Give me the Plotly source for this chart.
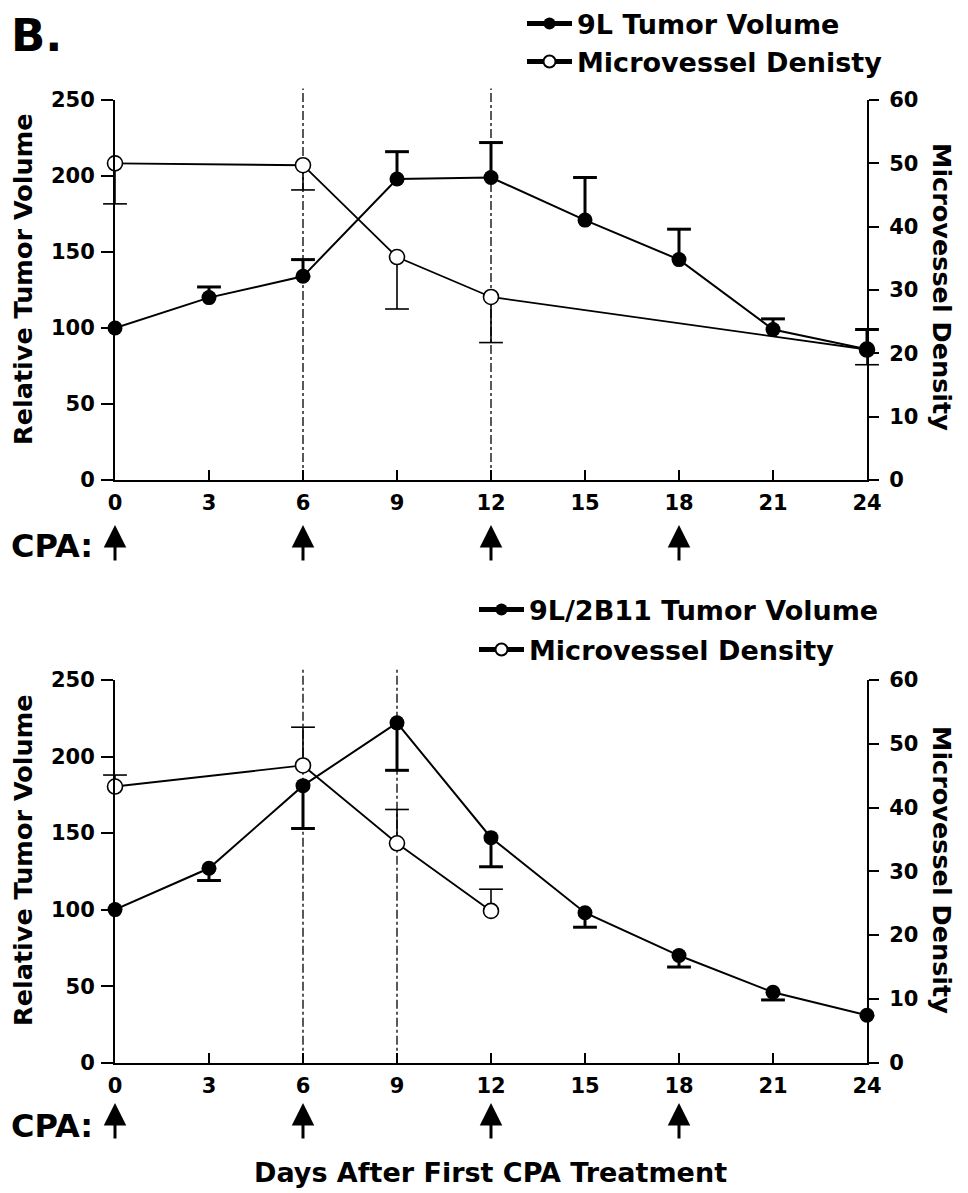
import plotly.graph_objects as go

# ---------------- data ----------------
days = [0, 3, 6, 9, 12, 15, 18, 21, 24]
tick_days = [0, 3, 6, 9, 12, 15, 18, 21, 24]
cpa_days = [0, 6, 12, 18]

# Panel 1 (9L)
tv1 = [100, 120, 134, 198, 199, 171, 145, 99, 86]
tv1_err_up = [None, 7, 11, 18, 23, 28, 20, 7, 13]
mvd1_days = [0, 6, 9, 12, 24]
mvd1 = [50.0, 49.7, 35.2, 28.9, 20.6]
mvd1_err_dn = [6.4, 3.9, 8.2, 7.2, 2.4]
vlines1 = [6, 12]

# Panel 2 (9L/2B11)
tv2 = [100, 127, 181, 222, 147, 98, 70, 46, 31]
tv2_err_dn = [None, 8, 28, 31, 19, 9.5, 7.5, 5, None]
mvd2_days = [0, 6, 9, 12]
mvd2 = [43.3, 46.6, 34.4, 23.8]
mvd2_err_up = [1.8, 6.0, 5.3, 3.4]
vlines2 = [6, 9]

tv_ticks = [0, 50, 100, 150, 200, 250]
mvd_ticks = [0, 10, 20, 30, 40, 50, 60]

# ---------------- style ----------------
OFF = 8                      # page body margin in the browser
W, H = 968 - OFF, 1193 - OFF
FONT = "DejaVu Sans"
BLACK = "black"

def px_x(p):
    return (p - OFF) / W

def px_y(p):
    return 1 - (p - OFF) / H

fig = go.Figure()


def err_traces(xs, vals, errs, sign, axes, thick, capw):
    sx, sy, cx, cy = [], [], [], []
    for x, v, e in zip(xs, vals, errs):
        if e is None:
            continue
        end = v + sign * e
        sx += [x, x, None]
        sy += [v, end, None]
        cx.append(x)
        cy.append(end)
    fig.add_trace(go.Scatter(x=sx, y=sy, mode="lines", xaxis=axes[0], yaxis=axes[1],
                             line=dict(color=BLACK, width=thick), showlegend=False,
                             hoverinfo="skip", cliponaxis=False))
    fig.add_trace(go.Scatter(x=cx, y=cy, mode="markers", xaxis=axes[0], yaxis=axes[1],
                             marker=dict(symbol="line-ew", size=capw,
                                         line=dict(color=BLACK, width=thick)),
                             showlegend=False, hoverinfo="skip", cliponaxis=False))


# base axis (y / y3) = MVD on right; overlay (y2 / y4) = tumor volume on left
# Panel 1: MVD
err_traces(mvd1_days, mvd1, mvd1_err_dn, -1, ("x", "y"), 1.6, 17)
fig.add_trace(go.Scatter(x=mvd1_days, y=mvd1, mode="lines+markers", xaxis="x", yaxis="y",
                         name="Microvessel Denisty", legend="legend2",
                         line=dict(color=BLACK, width=1.8),
                         marker=dict(symbol="circle", size=15, color="white",
                                     line=dict(color=BLACK, width=1.6)),
                         cliponaxis=False))
# Panel 1: tumor volume
err_traces(days, tv1, tv1_err_up, 1, ("x", "y2"), 3, 17)
fig.add_trace(go.Scatter(x=days, y=tv1, mode="lines+markers", xaxis="x", yaxis="y2",
                         name="9L Tumor Volume", legend="legend",
                         line=dict(color=BLACK, width=2),
                         marker=dict(symbol="circle", size=15, color=BLACK),
                         cliponaxis=False))

# Panel 2: MVD
err_traces(mvd2_days, mvd2, mvd2_err_up, 1, ("x2", "y3"), 1.6, 17)
fig.add_trace(go.Scatter(x=mvd2_days, y=mvd2, mode="lines+markers", xaxis="x2", yaxis="y3",
                         name="Microvessel Density", legend="legend4",
                         line=dict(color=BLACK, width=1.8),
                         marker=dict(symbol="circle", size=15, color="white",
                                     line=dict(color=BLACK, width=1.6)),
                         cliponaxis=False))
# Panel 2: tumor volume
err_traces(days, tv2, tv2_err_dn, -1, ("x2", "y4"), 3, 17)
fig.add_trace(go.Scatter(x=days, y=tv2, mode="lines+markers", xaxis="x2", yaxis="y4",
                         name="9L/2B11 Tumor Volume", legend="legend3",
                         line=dict(color=BLACK, width=2),
                         marker=dict(symbol="circle", size=15, color=BLACK),
                         cliponaxis=False))

tickfont = dict(family=FONT, size=21, color=BLACK, weight="bold")
xdom = [px_x(115), px_x(867)]
top_dom = [px_y(480), px_y(100)]
bot_dom = [px_y(1062.7), px_y(680)]

common_x = dict(range=[0, 24], tickvals=tick_days, ticks="inside", ticklen=10, tickwidth=1.6,
                tickcolor=BLACK, showline=True, linewidth=2, linecolor=BLACK,
                showgrid=False, zeroline=False, tickfont=tickfont, fixedrange=True,
                ticklabelstandoff=3)
right_y = dict(side="right", range=[0, 60], tickvals=mvd_ticks, ticks="outside", ticklen=10,
               tickwidth=1.6, tickcolor=BLACK, showline=True, linewidth=2, linecolor=BLACK,
               showgrid=False, zeroline=False, tickfont=tickfont, ticklabelstandoff=6)
left_y = dict(side="left", range=[0, 250], tickvals=tv_ticks, ticks="outside", ticklen=12,
              tickwidth=1.6, tickcolor=BLACK, showline=True, linewidth=2, linecolor=BLACK,
              showgrid=False, zeroline=False, tickfont=tickfont, ticklabelstandoff=2)

legend_common = dict(font=dict(family=FONT, size=27, color=BLACK, weight="bold"),
                     bgcolor="rgba(0,0,0,0)", borderwidth=0, xanchor="left",
                     yanchor="middle", itemsizing="constant", itemwidth=45)

fig.update_layout(
    width=W, height=H,
    margin=dict(l=0, r=0, t=0, b=0, pad=0, autoexpand=False),
    paper_bgcolor="white", plot_bgcolor="white",
    showlegend=True,
    xaxis=dict(domain=xdom, anchor="y", **common_x),
    yaxis=dict(domain=top_dom, anchor="x", **right_y),
    yaxis2=dict(overlaying="y", anchor="x", **left_y),
    xaxis2=dict(domain=xdom, anchor="y3", **common_x),
    yaxis3=dict(domain=bot_dom, anchor="x2", **right_y),
    yaxis4=dict(overlaying="y3", anchor="x2", **left_y),
    legend=dict(x=px_x(522), y=px_y(24), **legend_common),
    legend2=dict(x=px_x(522), y=px_y(62), **legend_common),
    legend3=dict(x=px_x(474), y=px_y(610), **legend_common),
    legend4=dict(x=px_x(474), y=px_y(650), **legend_common),
)

shapes = []
for d in vlines1:
    shapes.append(dict(type="line", xref="x", yref="y domain", x0=d, x1=d, y0=0, y1=1.03,
                       line=dict(color="#222", width=1.5, dash="dashdot"), layer="below"))
for d in vlines2:
    shapes.append(dict(type="line", xref="x2", yref="y3 domain", x0=d, x1=d, y0=0, y1=1.03,
                       line=dict(color="#222", width=1.5, dash="dashdot"), layer="below"))
fig.update_layout(shapes=shapes)

ann = []
title_font = dict(family=FONT, size=25.5, color=BLACK, weight="bold")
# panel label
ann.append(dict(text="B.", x=px_x(9), y=px_y(35), xref="paper", yref="paper",
                xanchor="left", yanchor="middle", showarrow=False,
                font=dict(family=FONT, size=45, color=BLACK, weight="bold")))
# axis titles
for yc_l, yc_r in [(279, 287), (860, 870)]:
    ann.append(dict(text="Relative Tumor Volume", x=px_x(23), y=px_y(yc_l), xref="paper",
                    yref="paper", textangle=-90, showarrow=False, font=title_font,
                    xanchor="center", yanchor="middle"))
    ann.append(dict(text="Microvessel Density", x=px_x(942), y=px_y(yc_r), xref="paper",
                    yref="paper", textangle=90, showarrow=False, font=title_font,
                    xanchor="center", yanchor="middle"))
ann.append(dict(text="Days After First CPA Treatment", x=px_x(490),
                y=px_y(1172), xref="paper", yref="paper", showarrow=False,
                font=dict(family=FONT, size=27, color=BLACK, weight="bold"),
                xanchor="center", yanchor="middle"))
# CPA arrows
for xr, tip, lab in [("x", 525, 546), ("x2", 1103, 1126)]:
    ann.append(dict(text="CPA:", x=px_x(9), y=px_y(lab), xref="paper", yref="paper",
                    xanchor="left", yanchor="middle", showarrow=False,
                    font=dict(family=FONT, size=32, color=BLACK, weight="bold")))
    for d in cpa_days:
        ann.append(dict(text="", x=d, y=px_y(tip), xref=xr, yref="paper", showarrow=True,
                        ax=0, ay=37, arrowhead=2, arrowsize=1.5, arrowwidth=3,
                        arrowcolor=BLACK, standoff=0))
fig.update_layout(annotations=ann)

fig.write_html("out.html")
